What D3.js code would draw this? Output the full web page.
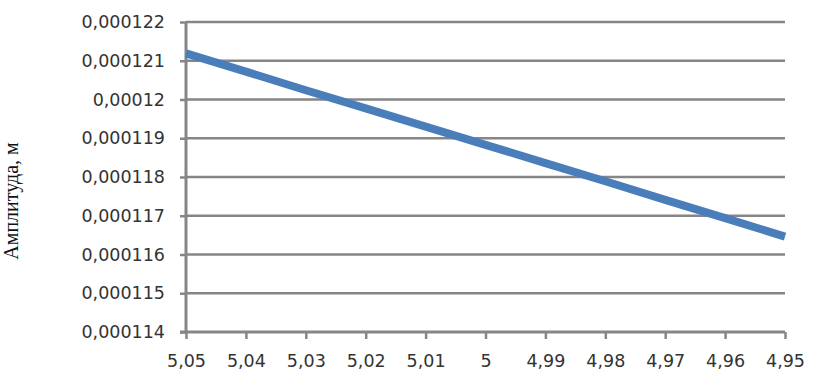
<!DOCTYPE html>
<html>
<head>
<meta charset="utf-8">
<script src="https://cdn.jsdelivr.net/npm/d3@7"></script>
<style>
  body { margin: 0; background: #fff; }
  svg { display: block; }
</style>
</head>
<body>
<div id="chart"></div>
<script>
// categories (frequency, shown as on the x axis)
const categories = [5.05, 5.04, 5.03, 5.02, 5.01, 5.00, 4.99, 4.98, 4.97, 4.96, 4.95];
// amplitude, m
const amplitude = [0.00012119, 0.00012072, 0.00012024, 0.00011977, 0.00011930, 0.00011883,
                   0.00011836, 0.00011789, 0.00011741, 0.00011694, 0.00011646];
const yTicks = [0.000114, 0.000115, 0.000116, 0.000117, 0.000118, 0.000119, 0.00012, 0.000121, 0.000122];
const yTitle = 'Амплитуда, м';

const width = 831, height = 384;
const margin = { left: 186, right: 46, top: 22, bottom: 52 };

const svg = d3.select('#chart').append('svg')
    .attr('width', width)
    .attr('height', height);

const x = d3.scalePoint()
    .domain(d3.range(categories.length))
    .range([margin.left, width - margin.right]);

const y = d3.scaleLinear()
    .domain([0.000114, 0.000122])
    .range([height - margin.bottom, margin.top]);

const comma = v => String(+v.toPrecision(6)).replace('.', ',');
const gray = '#868686';

// gridlines
svg.append('g')
    .selectAll('line')
    .data(yTicks.slice(1))
    .join('line')
    .attr('x1', margin.left).attr('x2', width - margin.right)
    .attr('y1', d => y(d)).attr('y2', d => y(d))
    .attr('stroke', gray).attr('stroke-width', 2.5);

// y axis
const yAxis = svg.append('g')
    .attr('transform', `translate(${margin.left},0)`)
    .call(d3.axisLeft(y).tickValues(yTicks).tickSize(6).tickPadding(15).tickFormat(comma));
yAxis.select('.domain').attr('stroke', gray).attr('stroke-width', 3)
    .attr('d', `M0,${margin.top}V${height - margin.bottom}`);
yAxis.selectAll('.tick line').attr('stroke', gray).attr('stroke-width', 2.5);
yAxis.selectAll('.tick text')
    .attr('font-family', 'DejaVu Sans').attr('font-size', 17.5).attr('fill', '#333');

// x axis
const xAxis = svg.append('g')
    .attr('transform', `translate(0,${height - margin.bottom})`)
    .call(d3.axisBottom(x).tickSize(7).tickPadding(16).tickFormat(i => comma(categories[i])));
xAxis.select('.domain').attr('stroke', gray).attr('stroke-width', 3)
    .attr('d', `M${margin.left - 6},0H${width - margin.right}`);
xAxis.selectAll('.tick line').attr('stroke', gray).attr('stroke-width', 2.5);
xAxis.selectAll('.tick text')
    .attr('font-family', 'DejaVu Sans').attr('font-size', 17.5).attr('fill', '#333');

// y title
svg.append('text')
    .attr('transform', `translate(18,${(margin.top + height - margin.bottom) / 2 + 24}) rotate(-90)`)
    .attr('text-anchor', 'middle')
    .attr('font-family', 'Liberation Serif').attr('font-size', 20)
    .attr('fill', '#111')
    .text(yTitle);

// series line
const line = d3.line()
    .x((d, i) => x(i))
    .y(d => y(d));

svg.append('path')
    .datum(amplitude)
    .attr('d', line)
    .attr('fill', 'none')
    .attr('stroke', '#4a7ebb')
    .attr('stroke-width', 8)
    .attr('stroke-linejoin', 'round');
</script>
</body>
</html>
